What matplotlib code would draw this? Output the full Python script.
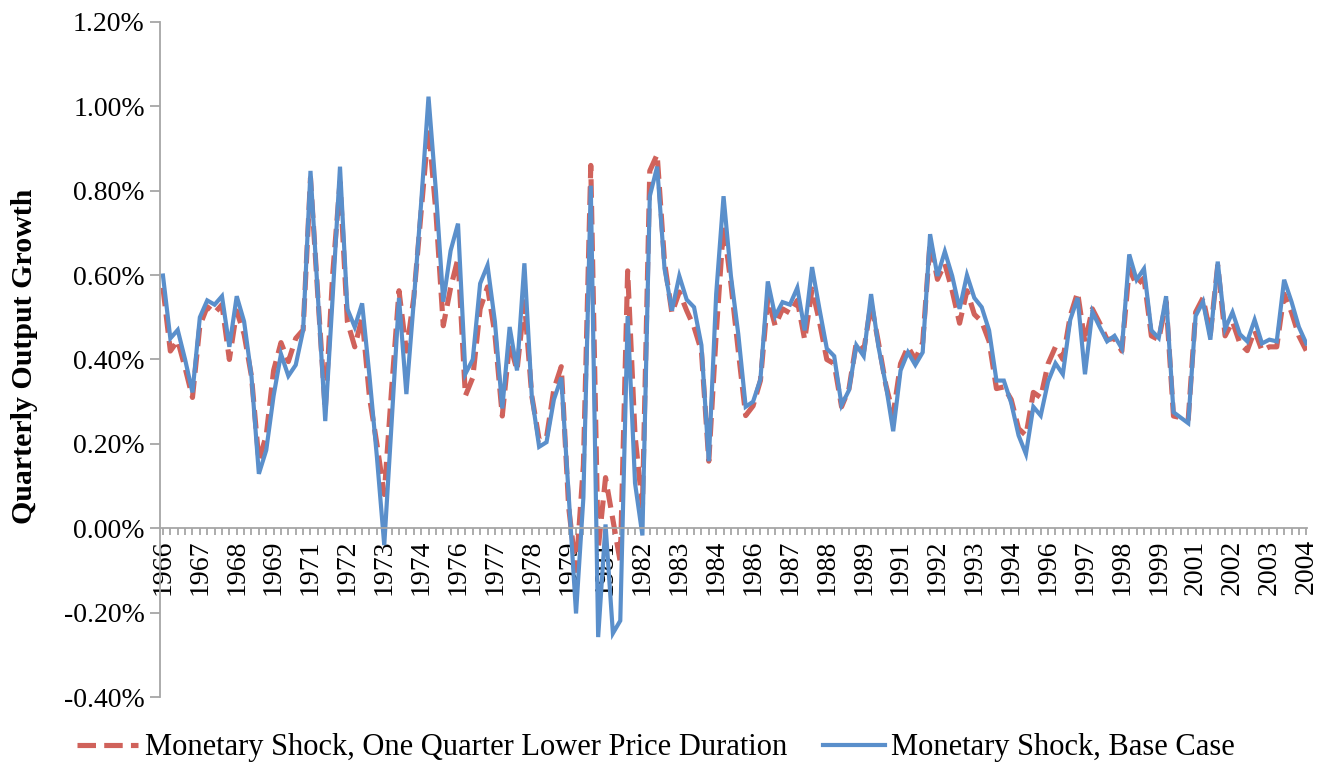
import matplotlib
matplotlib.use("Agg")
import matplotlib.pyplot as plt
from matplotlib.ticker import FixedLocator, FuncFormatter, MultipleLocator

# quarterly output growth, percent, 1966Q1 - 2004Q4
base_case = [
    0.599, 0.450, 0.470, 0.400, 0.322, 0.500, 0.540, 0.530, 0.550, 0.430,
    0.550, 0.490, 0.360, 0.129, 0.185, 0.314, 0.413, 0.361, 0.387, 0.469,
    0.847, 0.550, 0.254, 0.546, 0.857, 0.520, 0.477, 0.533, 0.360, 0.170,
    -0.040, 0.250, 0.546, 0.318, 0.537, 0.770, 1.023, 0.800, 0.537, 0.658,
    0.722, 0.366, 0.400, 0.580, 0.623, 0.490, 0.284, 0.477, 0.374, 0.628,
    0.314, 0.193, 0.204, 0.305, 0.357, 0.080, -0.202, 0.073, 0.812, -0.258,
    0.009, -0.249, -0.219, 0.503, 0.107, -0.017, 0.787, 0.857, 0.615, 0.516,
    0.598, 0.542, 0.524, 0.434, 0.159, 0.555, 0.787, 0.598, 0.460, 0.288,
    0.300, 0.353, 0.585, 0.503, 0.536, 0.530, 0.570, 0.469, 0.619, 0.520,
    0.426, 0.408, 0.292, 0.327, 0.434, 0.408, 0.555, 0.430, 0.340, 0.230,
    0.374, 0.417, 0.387, 0.417, 0.697, 0.598, 0.656, 0.598, 0.520, 0.600,
    0.546, 0.524, 0.469, 0.350, 0.350, 0.297, 0.220, 0.176, 0.288, 0.267,
    0.348, 0.391, 0.365, 0.494, 0.546, 0.365, 0.513, 0.477, 0.443, 0.456,
    0.426, 0.649, 0.589, 0.615, 0.469, 0.451, 0.550, 0.275, 0.262, 0.249,
    0.503, 0.537, 0.447, 0.632, 0.473, 0.512, 0.460, 0.443, 0.494, 0.438,
    0.447, 0.443, 0.589, 0.537, 0.477, 0.438,
]

lower_duration = [
    0.570, 0.420, 0.445, 0.380, 0.310, 0.480, 0.525, 0.510, 0.530, 0.400,
    0.515, 0.460, 0.360, 0.160, 0.220, 0.374, 0.440, 0.395, 0.450, 0.470,
    0.830, 0.550, 0.280, 0.600, 0.820, 0.490, 0.430, 0.500, 0.310, 0.200,
    0.080, 0.330, 0.563, 0.420, 0.546, 0.750, 0.950, 0.750, 0.480, 0.570,
    0.640, 0.314, 0.357, 0.520, 0.572, 0.460, 0.266, 0.440, 0.374, 0.537,
    0.314, 0.210, 0.215, 0.330, 0.383, 0.050, -0.100, 0.150, 0.860, -0.050,
    0.120, 0.020, -0.080, 0.610, 0.220, 0.050, 0.847, 0.886, 0.630, 0.510,
    0.560, 0.516, 0.477, 0.420, 0.159, 0.460, 0.718, 0.580, 0.420, 0.267,
    0.290, 0.350, 0.546, 0.480, 0.520, 0.510, 0.540, 0.447, 0.567, 0.490,
    0.400, 0.390, 0.288, 0.330, 0.440, 0.420, 0.533, 0.440, 0.340, 0.270,
    0.390, 0.430, 0.400, 0.440, 0.680, 0.590, 0.627, 0.563, 0.486, 0.563,
    0.507, 0.490, 0.443, 0.331, 0.335, 0.305, 0.236, 0.220, 0.322, 0.310,
    0.390, 0.430, 0.400, 0.503, 0.559, 0.440, 0.520, 0.486, 0.447, 0.450,
    0.420, 0.615, 0.576, 0.593, 0.456, 0.447, 0.537, 0.266, 0.262, 0.258,
    0.512, 0.546, 0.460, 0.623, 0.456, 0.490, 0.438, 0.421, 0.469, 0.421,
    0.430, 0.430, 0.555, 0.512, 0.456, 0.421,
]

# one label every fifth quarter
year_labels = ['1966', '1967', '1968', '1969', '1971', '1972', '1973', '1974',
               '1976', '1977', '1978', '1979', '1981', '1982', '1983', '1984',
               '1986', '1987', '1988', '1989', '1991', '1992', '1993', '1994',
               '1996', '1997', '1998', '1999', '2001', '2002', '2003', '2004']

plt.rcParams['font.family'] = ['Liberation Serif', 'DejaVu Serif']

fig = plt.figure(figsize=(13.17, 7.63), dpi=100)
ax = fig.add_axes([0.1215, 0.0865, 0.8709, 0.8847])

q = list(range(len(base_case)))
ax.plot(q, lower_duration, color='#D0625B', lw=3.7, linestyle=(0, (3.6, 1.6)),
        dash_capstyle='butt', label='Monetary Shock, One Quarter Lower Price Duration')
ax.plot(q, base_case, color='#5A8FCB', lw=3.0, solid_joinstyle='miter',
        label='Monetary Shock, Base Case')

ax.set_xlim(-0.4, 155.1)
ax.set_ylim(-0.4, 1.2)
ax.yaxis.set_major_locator(MultipleLocator(0.2))
ax.yaxis.set_major_formatter(FuncFormatter(lambda v, p: '%.2f%%' % v))

ax.xaxis.set_major_locator(FixedLocator(range(0, len(q), 5)))
ax.set_xticklabels(year_labels)
ax.xaxis.set_minor_locator(MultipleLocator(1))

ax.spines['top'].set_visible(False)
ax.spines['right'].set_visible(False)
ax.spines['bottom'].set_position(('data', 0))
for s in ('left', 'bottom'):
    ax.spines[s].set_color('#A6A6A6')
    ax.spines[s].set_linewidth(1.3)

ax.tick_params(axis='y', direction='out', length=7, width=1.3, color='#A6A6A6',
               labelsize=20, pad=4)
ax.tick_params(axis='x', which='both', direction='out', length=5, width=1.3,
               color='#A6A6A6', labelsize=20, pad=3, labelrotation=90)

ax.set_ylabel('Quarterly Output Growth', fontsize=21.5, fontweight='bold')
ax.yaxis.set_label_coords(-0.106, 0.504)

fig.legend(loc='center', bbox_to_anchor=(0.498, 0.02), ncol=2, frameon=False,
           fontsize=22, handlelength=2.0, handletextpad=0.2, columnspacing=1.2)

fig.savefig('out.png', dpi=100)
